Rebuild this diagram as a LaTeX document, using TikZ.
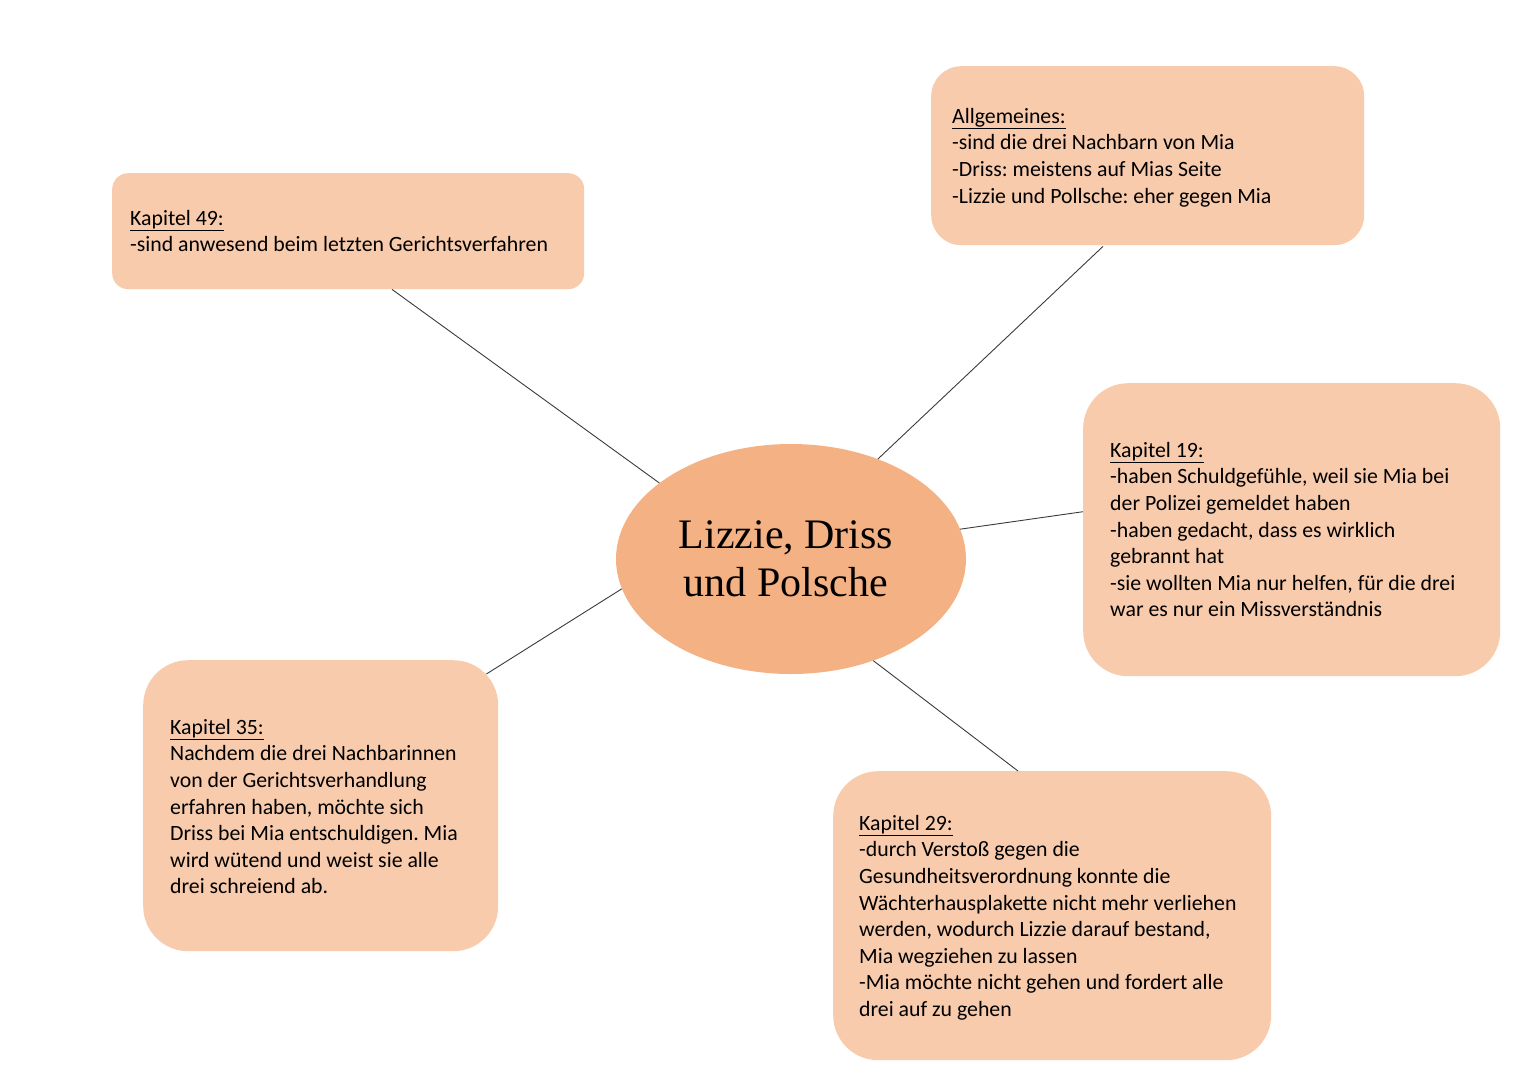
\documentclass[tikz,border=0pt]{standalone}
\usepackage{fontspec}
\setmainfont{Carlito}
\frenchspacing
\usetikzlibrary{shapes.geometric,calc}
\definecolor{boxfill}{HTML}{F8CBAD}
\definecolor{ellfill}{HTML}{F4B183}
\definecolor{linec}{HTML}{3A3A3A}
\newfontfamily\titlefont{Liberation Serif}
\tikzset{
  infobox/.style={draw=none, fill=boxfill, rectangle, anchor=north west, inner sep=0pt},
  infotext/.style={anchor=north west, inner sep=0pt, align=left, font=\fontsize{21.8}{26.6}\selectfont, text=black},
  conn/.style={draw=linec, line width=0.9pt}
}
\begin{document}
\begin{tikzpicture}[x=1pt,y=-1pt]
\useasboundingbox (0,0) rectangle (1527,1080);
% boxes
\node[infobox, rounded corners=16pt, minimum width=472pt, minimum height=116pt] (b49) at (112,173) {};
\node[infobox, rounded corners=30pt, minimum width=433pt, minimum height=179pt] (ballg) at (931,66) {};
\node[infobox, rounded corners=45pt, minimum width=417pt, minimum height=293pt] (b19) at (1083,383) {};
\node[infobox, rounded corners=45pt, minimum width=355pt, minimum height=291pt] (b35) at (143,660) {};
\node[infobox, rounded corners=45pt, minimum width=438pt, minimum height=289pt] (b29) at (833,771) {};
% center ellipse
\node[ellipse, fill=ellfill, minimum width=350pt, minimum height=230pt, inner sep=0pt] (ell) at (791,559) {};
\node[align=center, font=\titlefont\fontsize{42}{48}\selectfont, inner sep=0pt] (title) at (786,559) {Lizzie, Driss\\und Polsche};
% texts
\node[infotext] (t49) at (130,210) {\underline{Kapitel 49:}\\-sind anwesend beim letzten Gerichtsverfahren};
\node[infotext] (tallg) at (952,108) {\underline{Allgemeines:}\\-sind die drei Nachbarn von Mia\\-Driss: meistens auf Mias Seite\\-Lizzie und Pollsche: eher gegen Mia};
\node[infotext] (t19) at (1110,442) {\underline{Kapitel 19:}\\-haben Schuldgefühle, weil sie Mia bei\\der Polizei gemeldet haben\\-haben gedacht, dass es wirklich\\gebrannt hat\\-sie wollten Mia nur helfen, für die drei\\war es nur ein Missverständnis};
\node[infotext] (t35) at (170,719) {\underline{Kapitel 35:}\\Nachdem die drei Nachbarinnen\\von der Gerichtsverhandlung\\erfahren haben, möchte sich\\Driss bei Mia entschuldigen. Mia\\wird wütend und weist sie alle\\drei schreiend ab.};
\node[infotext] (t29) at (859,815) {\underline{Kapitel 29:}\\-durch Verstoß gegen die\\Gesundheitsverordnung konnte die\\Wächterhausplakette nicht mehr verliehen\\werden, wodurch Lizzie darauf bestand,\\Mia wegziehen zu lassen\\-Mia möchte nicht gehen und fordert alle\\drei auf zu gehen};
% connectors
\draw[conn] ($(b49.south west)+(280,0)$) -- (ell.150.8);
\draw[conn] ($(ballg.south west)+(172,1)$) -- (ell.49.6);
\draw[conn] ($(b19.west)+(0,-18)$) -- (ell.10.2);
\draw[conn] ($(b35.north east)+(-12,14)$) -- (ell.190.8);
\draw[conn] ($(b29.north west)+(185,0)$) -- (ell.309.4);
\end{tikzpicture}
\end{document}
